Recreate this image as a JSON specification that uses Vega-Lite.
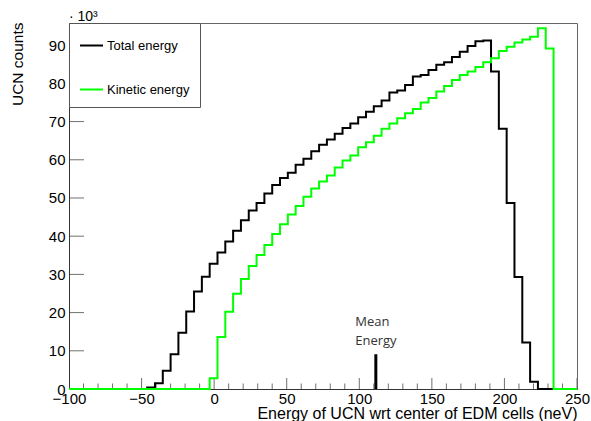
{
  "$schema": "https://vega.github.io/schema/vega-lite/v6.json",
  "width": 508,
  "height": 366,
  "autosize": {"type": "none"},
  "padding": {"left": 69, "top": 23, "right": 14, "bottom": 32},
  "background": "white",
  "title": {"text": "· 10³", "anchor": "start", "frame": "group", "font": "Liberation Sans", "fontSize": 14, "fontWeight": "normal", "color": "black", "offset": 1, "dy": 3},
  "config": {
    "view": {"stroke": "#666", "strokeWidth": 1},
    "axis": {"labelFont": "Liberation Sans", "titleFont": "Liberation Sans", "labelColor": "black", "titleColor": "black", "domainColor": "#333", "grid": false, "ticks": false, "titleFontWeight": "normal"}
  },
  "layer": [
    {
      "data": {"values": [
        {"v": -100}, {"v": -90}, {"v": -80}, {"v": -70}, {"v": -60}, {"v": -50}, {"v": -40}, {"v": -30}, {"v": -20}, {"v": -10},
        {"v": 0}, {"v": 10}, {"v": 20}, {"v": 30}, {"v": 40}, {"v": 50}, {"v": 60}, {"v": 70}, {"v": 80}, {"v": 90},
        {"v": 100}, {"v": 110}, {"v": 120}, {"v": 130}, {"v": 140}, {"v": 150}, {"v": 160}, {"v": 170}, {"v": 180}, {"v": 190},
        {"v": 200}, {"v": 210}, {"v": 220}, {"v": 230}, {"v": 240}, {"v": 250}
      ]},
      "mark": {"type": "tick", "orient": "vertical", "clip": true, "color": "#333", "thickness": 1},
      "encoding": {
        "x": {"field": "v", "type": "quantitative"},
        "y": {"datum": 0, "type": "quantitative"},
        "size": {"condition": {"test": "datum.v % 50 === 0", "value": 22}, "value": 11}
      }
    },
    {
      "data": {"values": [
        {"v": 0}, {"v": 10}, {"v": 20}, {"v": 30}, {"v": 40}, {"v": 50}, {"v": 60}, {"v": 70}, {"v": 80}, {"v": 90}
      ]},
      "mark": {"type": "tick", "orient": "horizontal", "clip": true, "color": "#333", "thickness": 1, "size": 30},
      "encoding": {
        "x": {"datum": -100, "type": "quantitative"},
        "y": {"field": "v", "type": "quantitative"}
      }
    },
    {
      "data": {"values": [
        {"series": "Total energy", "energy": -100, "counts": 0},
        {"series": "Total energy", "energy": -46.15, "counts": 0.4},
        {"series": "Total energy", "energy": -40.77, "counts": 1.5},
        {"series": "Total energy", "energy": -35.38, "counts": 4.8},
        {"series": "Total energy", "energy": -30.0, "counts": 9.1},
        {"series": "Total energy", "energy": -24.62, "counts": 14.7},
        {"series": "Total energy", "energy": -19.23, "counts": 20.3},
        {"series": "Total energy", "energy": -13.85, "counts": 25.5},
        {"series": "Total energy", "energy": -8.46, "counts": 29.4},
        {"series": "Total energy", "energy": -3.08, "counts": 32.8},
        {"series": "Total energy", "energy": 2.31, "counts": 35.7},
        {"series": "Total energy", "energy": 7.69, "counts": 38.6},
        {"series": "Total energy", "energy": 13.08, "counts": 41.4},
        {"series": "Total energy", "energy": 18.46, "counts": 44.2},
        {"series": "Total energy", "energy": 23.85, "counts": 46.7},
        {"series": "Total energy", "energy": 29.23, "counts": 48.7},
        {"series": "Total energy", "energy": 34.62, "counts": 51.2},
        {"series": "Total energy", "energy": 40.0, "counts": 53.4},
        {"series": "Total energy", "energy": 45.38, "counts": 55.2},
        {"series": "Total energy", "energy": 50.77, "counts": 56.6},
        {"series": "Total energy", "energy": 56.15, "counts": 58.7},
        {"series": "Total energy", "energy": 61.54, "counts": 60.3},
        {"series": "Total energy", "energy": 66.92, "counts": 62.2},
        {"series": "Total energy", "energy": 72.31, "counts": 63.9},
        {"series": "Total energy", "energy": 77.69, "counts": 65.3},
        {"series": "Total energy", "energy": 83.08, "counts": 66.8},
        {"series": "Total energy", "energy": 88.46, "counts": 68.3},
        {"series": "Total energy", "energy": 93.85, "counts": 69.5},
        {"series": "Total energy", "energy": 99.23, "counts": 71.1},
        {"series": "Total energy", "energy": 104.62, "counts": 72.6},
        {"series": "Total energy", "energy": 110.0, "counts": 74.0},
        {"series": "Total energy", "energy": 115.38, "counts": 75.5},
        {"series": "Total energy", "energy": 120.77, "counts": 77.6},
        {"series": "Total energy", "energy": 126.15, "counts": 78.1},
        {"series": "Total energy", "energy": 131.54, "counts": 79.6},
        {"series": "Total energy", "energy": 136.92, "counts": 81.8},
        {"series": "Total energy", "energy": 142.31, "counts": 82.2},
        {"series": "Total energy", "energy": 147.69, "counts": 83.5},
        {"series": "Total energy", "energy": 153.08, "counts": 84.9},
        {"series": "Total energy", "energy": 158.46, "counts": 85.5},
        {"series": "Total energy", "energy": 163.85, "counts": 86.9},
        {"series": "Total energy", "energy": 169.23, "counts": 88.3},
        {"series": "Total energy", "energy": 174.62, "counts": 89.8},
        {"series": "Total energy", "energy": 180.0, "counts": 91.0},
        {"series": "Total energy", "energy": 185.38, "counts": 91.2},
        {"series": "Total energy", "energy": 190.77, "counts": 83.1},
        {"series": "Total energy", "energy": 196.15, "counts": 68.1},
        {"series": "Total energy", "energy": 201.54, "counts": 48.7},
        {"series": "Total energy", "energy": 206.92, "counts": 29.3},
        {"series": "Total energy", "energy": 212.31, "counts": 12.2},
        {"series": "Total energy", "energy": 217.69, "counts": 1.9},
        {"series": "Total energy", "energy": 223.08, "counts": 0},
        {"series": "Total energy", "energy": 250, "counts": 0},
        {"series": "Kinetic energy", "energy": -100, "counts": 0},
        {"series": "Kinetic energy", "energy": -3.08, "counts": 2.8},
        {"series": "Kinetic energy", "energy": 2.31, "counts": 13.6},
        {"series": "Kinetic energy", "energy": 7.69, "counts": 20.2},
        {"series": "Kinetic energy", "energy": 13.08, "counts": 24.9},
        {"series": "Kinetic energy", "energy": 18.46, "counts": 28.8},
        {"series": "Kinetic energy", "energy": 23.85, "counts": 32.2},
        {"series": "Kinetic energy", "energy": 29.23, "counts": 35.1},
        {"series": "Kinetic energy", "energy": 34.62, "counts": 37.7},
        {"series": "Kinetic energy", "energy": 40.0, "counts": 40.6},
        {"series": "Kinetic energy", "energy": 45.38, "counts": 43.1},
        {"series": "Kinetic energy", "energy": 50.77, "counts": 45.7},
        {"series": "Kinetic energy", "energy": 56.15, "counts": 47.9},
        {"series": "Kinetic energy", "energy": 61.54, "counts": 50.3},
        {"series": "Kinetic energy", "energy": 66.92, "counts": 52.5},
        {"series": "Kinetic energy", "energy": 72.31, "counts": 54.3},
        {"series": "Kinetic energy", "energy": 77.69, "counts": 55.9},
        {"series": "Kinetic energy", "energy": 83.08, "counts": 58.0},
        {"series": "Kinetic energy", "energy": 88.46, "counts": 59.8},
        {"series": "Kinetic energy", "energy": 93.85, "counts": 61.1},
        {"series": "Kinetic energy", "energy": 99.23, "counts": 63.3},
        {"series": "Kinetic energy", "energy": 104.62, "counts": 64.6},
        {"series": "Kinetic energy", "energy": 110.0, "counts": 66.3},
        {"series": "Kinetic energy", "energy": 115.38, "counts": 68.1},
        {"series": "Kinetic energy", "energy": 120.77, "counts": 69.5},
        {"series": "Kinetic energy", "energy": 126.15, "counts": 70.9},
        {"series": "Kinetic energy", "energy": 131.54, "counts": 72.2},
        {"series": "Kinetic energy", "energy": 136.92, "counts": 73.3},
        {"series": "Kinetic energy", "energy": 142.31, "counts": 75.0},
        {"series": "Kinetic energy", "energy": 147.69, "counts": 76.2},
        {"series": "Kinetic energy", "energy": 153.08, "counts": 77.9},
        {"series": "Kinetic energy", "energy": 158.46, "counts": 79.3},
        {"series": "Kinetic energy", "energy": 163.85, "counts": 80.9},
        {"series": "Kinetic energy", "energy": 169.23, "counts": 82.2},
        {"series": "Kinetic energy", "energy": 174.62, "counts": 83.1},
        {"series": "Kinetic energy", "energy": 180.0, "counts": 84.3},
        {"series": "Kinetic energy", "energy": 185.38, "counts": 85.5},
        {"series": "Kinetic energy", "energy": 190.77, "counts": 86.6},
        {"series": "Kinetic energy", "energy": 196.15, "counts": 88.5},
        {"series": "Kinetic energy", "energy": 201.54, "counts": 89.6},
        {"series": "Kinetic energy", "energy": 206.92, "counts": 90.7},
        {"series": "Kinetic energy", "energy": 212.31, "counts": 91.5},
        {"series": "Kinetic energy", "energy": 217.69, "counts": 92.2},
        {"series": "Kinetic energy", "energy": 223.08, "counts": 94.4},
        {"series": "Kinetic energy", "energy": 228.46, "counts": 89.1},
        {"series": "Kinetic energy", "energy": 233.85, "counts": 0},
        {"series": "Kinetic energy", "energy": 250, "counts": 0}
      ]},
      "mark": {"type": "line", "interpolate": "step-after", "strokeWidth": 2},
      "encoding": {
        "x": {"field": "energy", "type": "quantitative",
          "scale": {"domain": [-100, 250], "nice": false, "zero": false},
          "axis": {"values": [-100, -50, 0, 50, 100, 150, 200, 250],
            "labelPadding": 2, "labelFontSize": 15, "labelOverlap": false, "labelFlush": false,
            "title": "Energy of UCN wrt center of EDM cells (neV)", "titleFontSize": 16,
            "titleAnchor": "end", "titleAlign": "right", "titleX": 508, "titleY": 29, "titleBaseline": "alphabetic"}},
        "y": {"field": "counts", "type": "quantitative",
          "scale": {"domain": [0, 95.8], "nice": false},
          "axis": {"values": [0, 10, 20, 30, 40, 50, 60, 70, 80, 90], "labelPadding": 4, "labelFontSize": 15,
            "title": "UCN counts", "titleFontSize": 15.5, "titleAnchor": "end", "titleAlign": "right", "titleAngle": -90,
            "titleX": -47, "titleY": -1, "titleBaseline": "alphabetic"}},
        "color": {"field": "series", "type": "nominal",
          "scale": {"domain": ["Total energy", "Kinetic energy"], "range": ["#000000", "#00ff00"]},
          "legend": {"orient": "none", "legendX": 0, "legendY": 0, "title": null, "symbolType": "stroke", "symbolStrokeWidth": 2, "symbolSize": 529,
            "labelFont": "Liberation Sans", "labelFontSize": 13, "labelColor": "black", "strokeColor": "#555", "fillColor": "white",
            "padding": 10, "rowPadding": 24, "labelOffset": 3}}
      }
    },
    {
      "data": {"values": [{"energy": 111.4, "counts": 0, "top": 9.1}]},
      "mark": {"type": "rule", "strokeWidth": 3, "color": "black"},
      "encoding": {
        "x": {"field": "energy", "type": "quantitative"},
        "y": {"field": "counts", "type": "quantitative"},
        "y2": {"field": "top"}
      }
    },
    {
      "data": {"values": [{"energy": 97.2, "counts": 17.6, "label": "Mean"}, {"energy": 97.2, "counts": 12.6, "label": "Energy"}]},
      "mark": {"type": "text", "align": "left", "baseline": "middle", "font": "Open Sans", "fontSize": 13, "color": "#333"},
      "encoding": {
        "x": {"field": "energy", "type": "quantitative"},
        "y": {"field": "counts", "type": "quantitative"},
        "text": {"field": "label"}
      }
    }
  ]
}
